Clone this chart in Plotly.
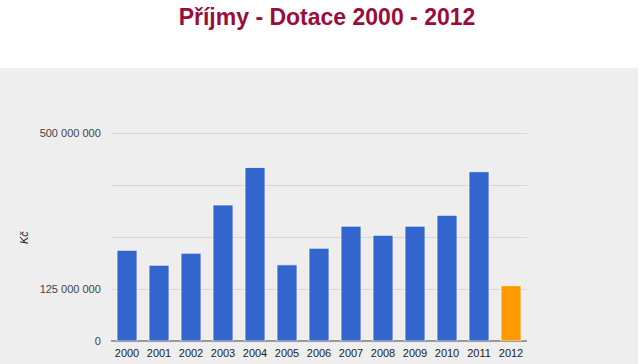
import plotly.graph_objects as go

years = ["2000", "2001", "2002", "2003", "2004", "2005", "2006",
         "2007", "2008", "2009", "2010", "2011", "2012"]
values = [218e6, 182e6, 211e6, 327e6, 417e6, 183e6, 223e6,
          276e6, 254e6, 276e6, 302e6, 407e6, 133e6]
bar_colors = ["#3366cc"] * 12 + ["#ff9900"]

y_tickvals = [0, 125e6, 250e6, 375e6, 500e6]
y_ticktext = ["0", "125 000 000", "", "", "500 000 000"]

fig = go.Figure()
fig.add_trace(go.Bar(
    x=years, y=values,
    marker=dict(color=bar_colors, line=dict(color="rgba(255,255,255,0.7)", width=1)),
    hoverinfo="x+y",
))

L, R, T, B = 111, 113, 131, 23
W, H = 640, 364
pw, ph = W - L - R, H - T - B
y_top = 500e6 * ph / 208.0

def px_x(p):
    return (p - L) / pw

def px_y(p):
    return (H - B - p) / ph

fig.add_shape(type="rect", xref="paper", yref="paper",
              x0=px_x(0), x1=px_x(638), y0=px_y(364), y1=px_y(68),
              fillcolor="#eeeeee", line=dict(width=0), layer="below")

fig.add_annotation(text="<i>Kč</i>", xref="paper", yref="paper",
                   x=px_x(24), y=px_y(238), textangle=-90, showarrow=False,
                   font=dict(family="Arial, Liberation Sans", size=11, color="#222222"),
                   xanchor="center", yanchor="middle")

fig.update_layout(
    width=W, height=H,
    margin=dict(l=L, r=R, t=T, b=B, autoexpand=False),
    paper_bgcolor="white",
    plot_bgcolor="#eeeeee",
    bargap=0.375,
    showlegend=False,
    title=dict(text="<b>Příjmy - Dotace 2000 - 2012</b>", x=327 / W, xanchor="center",
               y=1 - 17 / H, yanchor="middle",
               font=dict(family="Arial, Liberation Sans", size=23, color="#990d3d")),
    font=dict(family="Arial, Liberation Sans", size=11, color="#222222"),
)
fig.update_yaxes(range=[0, y_top], tickvals=y_tickvals, ticktext=y_ticktext,
                 showgrid=True, gridcolor="#d6d6d6", gridwidth=1,
                 zeroline=True, zerolinecolor="#999999", zerolinewidth=2,
                 ticks="outside", ticklen=7, tickcolor="rgba(0,0,0,0)",
                 tickfont=dict(color="#444444", size=11), fixedrange=True,
                 automargin=False)
fig.update_xaxes(showgrid=False, showline=False, ticks="outside", ticklen=2,
                 tickcolor="rgba(0,0,0,0)", tickfont=dict(color="#222222", size=11),
                 fixedrange=True, automargin=False)

fig.write_html("out.html", config={"displayModeBar": False},
               post_script="document.body.style.margin='0';document.body.style.overflow='hidden';")
